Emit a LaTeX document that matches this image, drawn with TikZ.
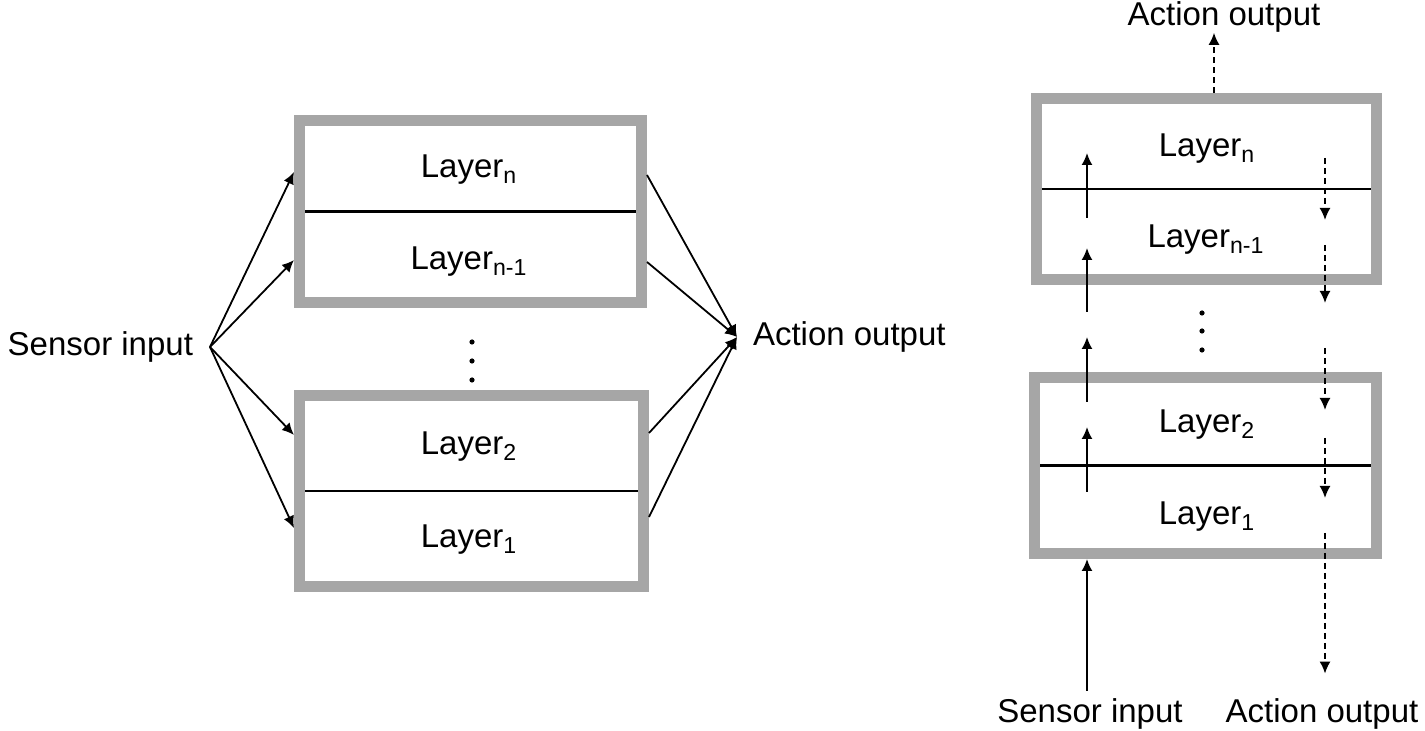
\documentclass[tikz,border=0pt]{standalone}
\usepackage{fontspec}
\setmainfont{Liberation Sans}
\usetikzlibrary{positioning,arrows.meta}

\begin{document}
\begin{tikzpicture}[x=0.5pt,y=-0.5pt,font=\fontsize{16.5}{19}\selectfont,
    >={Latex[length=6pt,width=5.5pt]},
    stack/.style={draw=black!35,line width=5.5pt,inner sep=0pt},
    cut/.style={line width=1.1pt,shorten <=5.5pt,shorten >=5.5pt},
    flow/.style={->,line width=0.9pt},
    back/.style={flow,dash pattern=on 3pt off 2pt},
    io/.style={inner sep=0pt}]
  \useasboundingbox (0,0) rectangle (1425,731);

  \node[stack,minimum width=171pt,minimum height=91pt] (topL) at (470.5,211.5) {};
  \node[stack,minimum width=172pt,minimum height=95.5pt] (botL) at (471.5,491) {};
  \draw[cut] (topL.west) -- (topL.east);
  \draw[cut] (botL.west) -- (botL.east);
  \node (lnL) at (469,170) {Layer\textsubscript{n}};
  \node (lmL) at (469,262) {Layer\textsubscript{n-1}};
  \node (l2L) at (469,447) {Layer\textsubscript{2}};
  \node (l1L) at (469,540) {Layer\textsubscript{1}};
  \foreach \d in {342,361,380} \fill (472,\d) circle (1.3pt);

  \node[io,anchor=east,outer sep=8.5pt] (sensL) at (210,347) {Sensor input};
  \node[io,anchor=west,outer sep=8pt] (actL) at (737,337) {Action output};
  \foreach \y [count=\i] in {172,260,435,528}{
    \coordinate (in\i) at (294,\y);
    \draw[flow] (sensL.east) -- (in\i);
  }
  \foreach \x/\y [count=\i] in {647/175,647/262,649/433,649/517}{
    \coordinate (out\i) at (\x,\y);
    \draw[flow] (out\i) -- (actL.west);
  }

  \node[stack,minimum width=170pt,minimum height=90.5pt] (topR) at (1206.5,189) {};
  \node[stack,minimum width=171pt,minimum height=88pt] (botR) at (1205.5,465.5) {};
  \draw[cut] (topR.west) -- (topR.east);
  \draw[cut] (botR.west) -- (botR.east);
  \node (lnR) at (1207,149) {Layer\textsubscript{n}};
  \node (lmR) at (1206,240) {Layer\textsubscript{n-1}};
  \node (l2R) at (1207,425) {Layer\textsubscript{2}};
  \node (l1R) at (1207,517) {Layer\textsubscript{1}};
  \foreach \d in {313,331,350} \fill (1202,\d) circle (1.3pt);

  \node[io] (actT) at (1224,17) {Action output};
  \node[io,outer sep=4pt] (sensB) at (1090,714) {Sensor input};
  \node[io,outer sep=12.5pt] (actB) at (1322,714) {Action output};

  \coordinate (outT) at ([xshift=-5pt]actT.south);
  \draw[back] (outT |- topR.north) -- (outT);
  \foreach \i/\t/\h in {1/218/153,2/312/248,3/402/337,4/492/427}{
    \coordinate (upA\i) at (1087,\t);
    \coordinate (upB\i) at (1087,\h);
    \draw[flow] (upA\i) -- (upB\i);
  }
  \draw[flow] (sensB.north -| upA1) -- (botR.south -| upA1);
  \foreach \i/\t/\h in {1/158/220,2/245/303,3/348/410,4/438/498}{
    \coordinate (dnA\i) at (1325,\t);
    \coordinate (dnB\i) at (1325,\h);
    \draw[back] (dnA\i) -- (dnB\i);
  }
  \coordinate (dnA5) at (1325,533);
  \draw[back] (dnA5) -- (dnA5 |- actB.north);
\end{tikzpicture}
\end{document}
